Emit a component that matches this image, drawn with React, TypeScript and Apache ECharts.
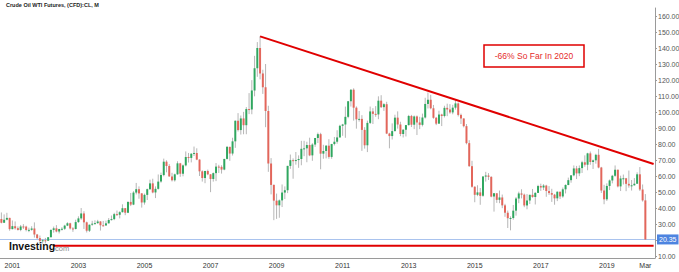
import React, { useEffect, useRef } from "react";
import * as echarts from "echarts";

// Monthly candles, Sep 2000 .. Mar 2020
const START_YEAR = 2000;
const START_MONTH = 9;
const EXTRA_MONTHS = 3; // empty slots to the right of the last candle

const opens = [
  33.12, 30.84, 32.70, 33.82,
  26.80, 28.66, 27.39, 26.29, 28.46, 28.37, 26.25, 26.35, 27.20, 23.43, 21.18, 19.44,
  19.84, 19.48, 21.74, 26.31, 27.29, 25.31, 26.86, 27.02, 28.98, 30.45, 27.22, 26.89,
  31.20, 33.51, 36.60, 31.04, 25.80, 29.56, 30.19, 30.54, 31.57, 29.20, 29.11, 30.41,
  32.52, 33.05, 36.16, 35.76, 37.38, 39.88, 37.05, 43.80, 42.12, 49.64, 51.76, 49.13,
  43.45, 48.20, 51.75, 55.40, 49.72, 51.97, 56.50, 60.57, 68.94, 66.24, 59.76, 57.32,
  61.04, 67.92, 61.41, 66.63, 71.88, 71.29, 73.93, 74.40, 70.26, 62.91, 58.73, 63.13,
  61.05, 58.14, 61.79, 65.87, 65.71, 64.01, 70.68, 78.21, 74.04, 81.66, 94.53, 88.71,
  95.98, 91.75, 101.84, 101.58, 113.46, 127.35, 140.00, 124.08, 115.46, 100.64, 67.81, 54.43,
  44.60, 41.68, 44.76, 49.66, 51.12, 66.31, 69.89, 69.45, 69.96, 70.61, 77.00, 77.28,
  79.36, 72.89, 79.66, 83.76, 86.15, 73.97, 75.63, 78.95, 71.92, 79.97, 81.43, 84.11,
  91.38, 92.19, 96.97, 106.72, 113.93, 102.70, 95.42, 95.70, 88.81, 79.20, 93.19, 100.36,
  98.83, 98.48, 107.07, 103.02, 104.87, 86.53, 84.96, 88.06, 96.47, 92.19, 86.24, 88.91,
  91.82, 97.49, 92.05, 97.23, 93.46, 91.97, 96.56, 105.03, 107.65, 102.33, 96.38, 92.72,
  98.42, 97.49, 102.59, 101.58, 99.74, 102.71, 105.37, 98.17, 95.96, 91.16, 80.54, 66.15,
  53.27, 48.24, 49.76, 47.60, 59.63, 60.30, 59.47, 47.12, 49.20, 45.09, 46.59, 41.65,
  37.04, 33.62, 33.75, 38.34, 45.92, 49.10, 48.33, 41.60, 44.70, 48.24, 46.86, 49.44,
  53.72, 52.81, 54.01, 50.60, 49.33, 48.32, 46.04, 50.17, 47.23, 51.67, 54.38, 57.40,
  60.42, 64.73, 61.64, 64.94, 68.57, 67.04, 74.15, 68.76, 69.80, 73.25, 65.31, 50.93,
  45.41, 53.79, 57.22, 60.14, 63.91, 53.50, 58.47, 58.58, 55.10, 54.07, 54.18, 55.17,
  61.06, 51.56, 44.76,
];

const closes = [
  30.84, 32.70, 33.82, 26.80,
  28.66, 27.39, 26.29, 28.46, 28.37, 26.25, 26.35, 27.20, 23.43, 21.18, 19.44, 19.84,
  19.48, 21.74, 26.31, 27.29, 25.31, 26.86, 27.02, 28.98, 30.45, 27.22, 26.89, 31.20,
  33.51, 36.60, 31.04, 25.80, 29.56, 30.19, 30.54, 31.57, 29.20, 29.11, 30.41, 32.52,
  33.05, 36.16, 35.76, 37.38, 39.88, 37.05, 43.80, 42.12, 49.64, 51.76, 49.13, 43.45,
  48.20, 51.75, 55.40, 49.72, 51.97, 56.50, 60.57, 68.94, 66.24, 59.76, 57.32, 61.04,
  67.92, 61.41, 66.63, 71.88, 71.29, 73.93, 74.40, 70.26, 62.91, 58.73, 63.13, 61.05,
  58.14, 61.79, 65.87, 65.71, 64.01, 70.68, 78.21, 74.04, 81.66, 94.53, 88.71, 95.98,
  91.75, 101.84, 101.58, 113.46, 127.35, 140.00, 124.08, 115.46, 100.64, 67.81, 54.43, 44.60,
  41.68, 44.76, 49.66, 51.12, 66.31, 69.89, 69.45, 69.96, 70.61, 77.00, 77.28, 79.36,
  72.89, 79.66, 83.76, 86.15, 73.97, 75.63, 78.95, 71.92, 79.97, 81.43, 84.11, 91.38,
  92.19, 96.97, 106.72, 113.93, 102.70, 95.42, 95.70, 88.81, 79.20, 93.19, 100.36, 98.83,
  98.48, 107.07, 103.02, 104.87, 86.53, 84.96, 88.06, 96.47, 92.19, 86.24, 88.91, 91.82,
  97.49, 92.05, 97.23, 93.46, 91.97, 96.56, 105.03, 107.65, 102.33, 96.38, 92.72, 98.42,
  97.49, 102.59, 101.58, 99.74, 102.71, 105.37, 98.17, 95.96, 91.16, 80.54, 66.15, 53.27,
  48.24, 49.76, 47.60, 59.63, 60.30, 59.47, 47.12, 49.20, 45.09, 46.59, 41.65, 37.04,
  33.62, 33.75, 38.34, 45.92, 49.10, 48.33, 41.60, 44.70, 48.24, 46.86, 49.44, 53.72,
  52.81, 54.01, 50.60, 49.33, 48.32, 46.04, 50.17, 47.23, 51.67, 54.38, 57.40, 60.42,
  64.73, 61.64, 64.94, 68.57, 67.04, 74.15, 68.76, 69.80, 73.25, 65.31, 50.93, 45.41,
  53.79, 57.22, 60.14, 63.91, 53.50, 58.47, 58.58, 55.10, 54.07, 54.18, 55.17, 61.06,
  51.56, 44.76, 20.35,
];

const highs = [
  37.20, 36.00, 37.00, 33.90,
  32.20, 31.60, 28.50, 29.40, 29.90, 28.90, 27.70, 28.60, 31.00, 23.80, 22.80, 20.50,
  21.30, 21.80, 26.60, 28.40, 29.30, 27.00, 28.00, 29.50, 31.10, 30.80, 28.00, 32.70,
  34.80, 39.99, 38.00, 31.50, 29.60, 32.00, 32.30, 32.60, 31.80, 31.90, 32.10, 33.70,
  35.30, 37.00, 38.40, 38.00, 42.30, 40.00, 44.30, 49.40, 50.50, 55.67, 53.50, 49.30,
  49.00, 52.10, 57.70, 58.30, 53.50, 60.95, 62.10, 70.85, 69.80, 67.40, 62.00, 61.50,
  69.20, 68.20, 67.20, 75.35, 74.40, 74.20, 78.40, 77.30, 70.40, 63.50, 63.30, 64.00,
  61.20, 62.20, 68.10, 67.00, 66.70, 70.70, 78.77, 78.30, 83.90, 94.70, 99.29, 97.80,
  100.09, 103.05, 111.80, 119.93, 135.09, 143.67, 147.27, 126.40, 130.00, 103.90, 71.20, 54.70,
  49.00, 45.30, 54.70, 53.50, 66.40, 73.40, 71.00, 75.00, 72.90, 82.00, 82.00, 81.40,
  83.95, 80.50, 83.80, 87.10, 87.00, 79.50, 79.30, 83.00, 80.10, 84.40, 88.60, 92.00,
  92.60, 103.40, 106.90, 114.20, 114.80, 103.50, 100.60, 98.00, 90.50, 94.60, 103.40, 102.40,
  103.70, 109.80, 110.50, 105.50, 106.40, 87.00, 92.90, 98.30, 100.40, 93.90, 89.30, 91.90,
  98.20, 98.20, 97.80, 97.80, 97.00, 99.00, 108.90, 112.20, 110.70, 104.40, 96.90, 100.80,
  98.90, 103.90, 105.20, 104.90, 104.50, 107.70, 106.00, 99.00, 96.00, 92.50, 82.40, 69.50,
  53.60, 54.20, 52.50, 59.90, 62.60, 61.80, 59.80, 49.40, 49.30, 50.90, 48.40, 42.60,
  38.40, 34.80, 41.90, 46.80, 50.20, 51.70, 49.00, 48.70, 48.30, 51.90, 49.90, 54.50,
  55.20, 54.90, 54.50, 53.70, 52.00, 48.80, 50.40, 50.20, 52.80, 54.80, 59.00, 60.50,
  66.60, 66.30, 66.60, 69.50, 72.90, 74.50, 75.30, 70.30, 73.90, 76.90, 65.70, 54.50,
  55.40, 57.80, 60.70, 66.60, 64.00, 60.20, 60.90, 58.80, 63.40, 57.50, 58.70, 62.30,
  65.60, 54.70, 48.70,
];

const lows = [
  30.40, 30.60, 32.30, 25.80,
  26.60, 26.50, 25.90, 25.50, 26.90, 25.40, 24.90, 25.80, 21.50, 20.60, 17.45, 17.80,
  17.90, 19.40, 21.60, 24.60, 24.80, 24.10, 25.90, 26.30, 28.70, 26.60, 25.10, 26.60,
  30.70, 32.60, 26.90, 24.70, 25.00, 28.90, 29.70, 30.10, 25.90, 28.40, 28.80, 30.30,
  32.20, 32.40, 35.10, 33.50, 37.20, 35.50, 36.80, 41.20, 41.80, 48.50, 45.80, 40.25,
  42.10, 45.00, 51.30, 49.20, 46.20, 51.50, 55.80, 59.80, 62.30, 59.50, 56.60, 56.50,
  60.80, 59.50, 59.80, 66.00, 68.40, 68.50, 72.50, 69.90, 60.00, 56.50, 55.50, 60.50,
  49.90, 56.50, 56.80, 61.90, 61.50, 63.60, 70.30, 69.50, 72.80, 77.60, 87.80, 85.90,
  86.10, 86.10, 98.70, 98.60, 109.80, 122.00, 120.40, 111.30, 90.50, 62.60, 48.50, 32.40,
  33.20, 33.90, 40.60, 45.60, 49.30, 64.50, 58.30, 67.10, 65.10, 66.70, 72.40, 68.60,
  72.40, 69.50, 78.20, 80.60, 64.20, 70.80, 71.00, 70.80, 70.80, 79.10, 80.20, 84.00,
  85.10, 83.90, 96.10, 103.40, 94.60, 89.60, 94.00, 75.70, 77.10, 74.95, 92.50, 92.50,
  97.00, 95.50, 102.50, 100.70, 86.20, 77.30, 82.80, 87.80, 89.60, 84.90, 84.10, 84.70,
  91.50, 90.60, 89.30, 85.60, 89.30, 91.00, 95.90, 102.20, 101.70, 95.80, 91.80, 92.60,
  91.20, 96.60, 97.40, 98.90, 98.60, 101.50, 97.20, 92.50, 90.40, 79.80, 65.70, 52.70,
  43.60, 47.40, 42.00, 47.00, 56.50, 57.50, 46.70, 37.75, 43.20, 43.00, 39.90, 34.50,
  27.50, 26.05, 32.70, 35.20, 43.00, 46.00, 40.50, 39.20, 42.50, 46.40, 42.20, 49.40,
  50.70, 51.20, 47.00, 48.20, 43.80, 42.05, 44.30, 45.60, 46.40, 49.10, 54.20, 55.80,
  59.80, 58.10, 59.90, 61.90, 65.80, 63.60, 67.00, 64.40, 67.70, 64.80, 49.40, 42.36,
  44.40, 51.20, 55.40, 59.50, 52.90, 50.60, 54.70, 50.50, 52.70, 50.90, 54.00, 55.00,
  50.60, 44.00, 20.06,
];

const yTickValues = [10, 20, 30, 40, 50, 60, 70, 80, 90, 100, 110, 120, 130, 140, 150, 160];

// annotation lines (category index, price)
const trendLine = [[94, 147.27], [237, 67.5]];
const supportLine = [[19, 16.4], [237, 16.4]];
const lastPrice = 20.35;

const TITLE = "Crude Oil WTI Futures, (CFD):CL, M";
const NOTE = "-66% So Far In 2020";

const categories: string[] = [];
for (let k = 0; k < closes.length + EXTRA_MONTHS; k++) {
  const m0 = START_MONTH - 1 + k;
  const y = START_YEAR + Math.floor(m0 / 12);
  const m = (m0 % 12) + 1;
  categories.push(`${y}-${m < 10 ? "0" + m : m}`);
}
const LAST_CAT = categories[closes.length - 1];

const GREEN = "#2fa75f";
const RED = "#e3665b";
const WICK = "#a3a3a3";
const LINE_RED = "#e00000";

export default function App() {
  const ref = useRef<HTMLDivElement>(null);
  useEffect(() => {
    if (!ref.current) return;
    const chart = echarts.init(ref.current, undefined, { renderer: "svg" });
    const candleData = closes.map((c, i) => [i, opens[i], c, lows[i], highs[i]]);
    const showLabel = (_i: number, v: string) => {
      const [y, m] = v.split("-");
      return (m === "01" && Number(y) % 2 === 1) || v === LAST_CAT;
    };
    chart.setOption({
      animation: false,
      backgroundColor: "#ffffff",
      textStyle: { fontFamily: "Liberation Sans, Arial, sans-serif" },
      grid: { left: 0, right: 24, top: 8, bottom: 14, outerBoundsMode: "none" },
      xAxis: {
        type: "category",
        data: categories,
        boundaryGap: true,
        axisLine: { show: true, lineStyle: { color: "#9a9a9a", width: 1 } },
        axisTick: { show: false },
        splitLine: { show: false },
        axisLabel: {
          interval: showLabel,
          fontSize: 7,
          color: "#333",
          margin: 4,
          formatter: (v: string) => {
            const [y, m] = v.split("-");
            return v === LAST_CAT ? "Mar" : y;
          },
        },
      },
      yAxis: {
        type: "value",
        position: "right",
        min: 8.75,
        max: 165,
        scale: true,
        splitLine: { show: false },
        axisLine: { show: true, lineStyle: { color: "#9a9a9a", width: 1 } },
        axisTick: { show: true, length: 2, customValues: yTickValues, lineStyle: { color: "#9a9a9a" } },
        axisLabel: {
          customValues: yTickValues,
          fontSize: 7,
          color: "#555",
          margin: 3,
          formatter: (v: number) => v.toFixed(2),
        },
      },
      graphic: [
        {
          type: "text",
          left: 6,
          top: 2,
          z: 100,
          style: { text: TITLE, fontSize: 5.5, fontWeight: "bold", fill: "#222", fontFamily: "Liberation Sans, Arial" },
        },
        {
          type: "text",
          left: 9,
          top: 240,
          z: 100,
          style: { text: "Investing", fontSize: 10.5, fontWeight: "bold", fill: "#111", fontFamily: "Liberation Sans, Arial" },
        },
        {
          type: "text",
          left: 55,
          top: 244,
          z: 100,
          style: { text: "com", fontSize: 7.5, fill: "#8a8a8a", fontFamily: "Liberation Sans, Arial" },
        },
        {
          type: "rect",
          z: 100,
          shape: { x: 484, y: 45, width: 100, height: 22 },
          style: { fill: "#ffffff", stroke: LINE_RED, lineWidth: 1.5 },
        },
        {
          type: "text",
          z: 101,
          x: 534,
          y: 56,
          style: {
            text: NOTE,
            fontSize: 8.5,
            fill: "#e52a2a",
            align: "center",
            verticalAlign: "middle",
            fontFamily: "Liberation Sans, Arial",
          },
        },
      ],
      series: [
        {
          type: "custom",
          name: "WTI",
          data: candleData,
          encode: { x: 0, y: [1, 2, 3, 4] },
          z: 3,
          renderItem: (_p: any, api: any) => {
            const i = api.value(0);
            const o = api.value(1);
            const c = api.value(2);
            const l = api.value(3);
            const h = api.value(4);
            const pO = api.coord([i, o]);
            const pC = api.coord([i, c]);
            const pL = api.coord([i, l]);
            const pH = api.coord([i, h]);
            const w = api.size([1, 0])[0] * 0.72;
            const top = Math.min(pO[1], pC[1]);
            const bot = Math.max(pO[1], pC[1]);
            return {
              type: "group",
              children: [
                {
                  type: "line",
                  shape: { x1: pH[0], y1: pH[1], x2: pL[0], y2: pL[1] },
                  style: { stroke: WICK, lineWidth: 0.8 },
                },
                {
                  type: "rect",
                  shape: { x: pO[0] - w / 2, y: top, width: w, height: Math.max(bot - top, 1) },
                  style: { fill: c >= o ? GREEN : RED },
                },
              ],
            };
          },
        },
        {
          type: "line",
          name: "trend",
          data: trendLine,
          showSymbol: false,
          symbol: "none",
          z: 5,
          lineStyle: { color: LINE_RED, width: 2 },
        },
        {
          type: "line",
          name: "support",
          data: supportLine,
          showSymbol: false,
          symbol: "none",
          z: 5,
          lineStyle: { color: LINE_RED, width: 2 },
          markLine: {
            silent: true,
            symbol: ["none", "none"],
            z: 2,
            lineStyle: { color: "#a9c3ee", width: 1, type: "solid" },
            label: {
              position: "end",
              distance: 2,
              formatter: () => lastPrice.toFixed(2),
              backgroundColor: "#4d84e0",
              color: "#ffffff",
              fontSize: 7,
              padding: [2, 2, 1, 2],
            },
            data: [{ yAxis: lastPrice }],
          },
        },
      ],
    });
    return () => chart.dispose();
  }, []);
  return (
    <div
      ref={ref}
      style={{ position: "fixed", left: 0, top: 0, width: 679, height: 272, background: "#fff" }}
    />
  );
}
